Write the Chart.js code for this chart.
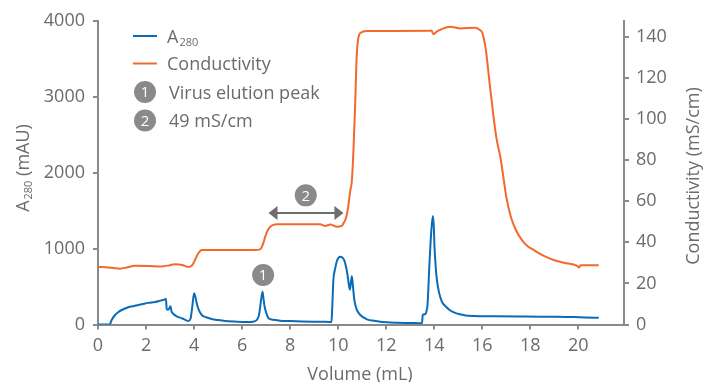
<!DOCTYPE html>
<html><head><meta charset="utf-8">
<script src="https://cdn.jsdelivr.net/npm/chart.js@4"></script>
<style>html,body{margin:0;padding:0;background:#fff}canvas{display:block}</style>
</head><body>
<canvas id="c" width="709" height="382"></canvas>
<script>
// ---- data ----
const a280Volume = [0,0.45,0.5,0.57,0.71,0.85,0.99,1.26,1.5,1.82,2.1,2.38,2.6,2.79,2.83,2.86,2.92,2.98,3.02,3.06,3.14,3.3,3.49,3.65,3.76,3.85,3.92,4.0,4.05,4.11,4.2,4.32,4.5,4.73,5.0,5.29,5.7,6.2,6.5,6.61,6.7,6.76,6.81,6.85,6.89,6.94,7.02,7.1,7.3,7.58,8.0,8.5,9.0,9.5,9.72,9.75,9.8,9.87,9.94,10.02,10.1,10.18,10.25,10.32,10.38,10.44,10.49,10.53,10.57,10.61,10.67,10.72,10.78,10.92,11.2,11.5,11.75,12.45,13.0,13.49,13.52,13.63,13.68,13.72,13.8,13.87,13.94,13.98,14.01,14.06,14.11,14.2,14.32,14.5,14.67,14.9,15.08,15.3,15.64,16.5,17.5,18.4,19.1,19.8,20.3,20.85];
const a280Values = [0,0,8,59,125,165,191,227,245,266,285,297,315,332,340,200,195,220,240,175,139,105,82,58,46,75,220,412,370,280,190,125,95,73,58,46,38,32,40,59,120,250,370,433,340,230,140,82,62,50,45,40,37,35,33,200,587,730,830,880,892,880,850,770,670,530,460,560,635,520,330,250,191,125,68,48,37,24,20,16,125,135,180,260,800,1200,1431,1300,1026,760,587,420,300,230,185,150,135,120,112,108,105,103,103,98,92,88];
const condVolume = [0,0.43,0.7,0.92,1.2,1.54,2.1,2.65,3.0,3.2,3.5,3.76,3.9,3.97,4.08,4.18,4.32,5.3,6.5,6.75,6.88,6.96,7.05,7.17,7.44,9.25,9.46,9.67,9.95,10.15,10.22,10.3,10.4,10.5,10.57,10.64,10.71,10.76,10.82,10.92,11.2,13.8,13.88,13.97,14.1,14.3,14.67,15.08,15.7,15.9,16.0,16.15,16.3,16.47,16.6,16.75,16.9,17.0,17.2,17.4,17.65,17.9,18.14,18.5,18.7,19.0,19.4,19.95,20.02,20.1,20.85];
const condValues = [28.0,27.8,27.4,27.2,27.8,28.6,28.5,28.3,28.9,29.3,29.0,28.0,28.6,29.8,32.5,34.7,36.3,36.3,36.3,36.6,39.5,42.7,45.5,47.6,48.8,48.8,48.0,48.7,47.6,48.0,49.3,51,56,65,70,86,108,128,138,142,142.9,143,143.2,141.4,142.6,143.8,145,144.2,144.5,143.4,142,133.6,118,101,90,81.7,70,62,52,46,41.1,38,36.3,33.8,32.7,31.3,30.1,28.5,27.8,28.8,28.8];
const xTickValues = [0,2,4,6,8,10,12,14,16,18,20];
const a280TickValues = [0,1000,2000,3000,4000];
const condTickValues = [0,20,40,60,80,100,120,140];
const seriesNames = ['A', 'Conductivity'];
const seriesSubs = ['280', ''];
const markerTexts = ['Virus elution peak', '49 mS/cm'];
const markerNumbers = ['1', '2'];
const axisTitles = {x: 'Volume (mL)', yMain: 'A', ySub: '280', yRest: ' (mAU)', y2: 'Conductivity (mS/cm)'};

// ---- styles / placement (not data) ----
const BLUE = '#0a6bb8', ORANGE = '#f26a2b', GREY = '#8a8a8a', TXT = '#6b6b6b';
const FONT = '"Open Sans", "DejaVu Sans", sans-serif';
const ann = {c1: {x: 6.875, y: 653}, c2: {x: 8.65, y: 1702}, arrow: {x1: 7.10, x2: 10.22, y: 1471}};

function toXY(xs, ys){ return xs.map((x,i)=>({x:x, y:ys[i]})); }

function drawSubText(ctx, x, y, main, sub, rest, size, subSize){
  ctx.textAlign = 'left';
  ctx.textBaseline = 'alphabetic';
  ctx.font = size + 'px ' + FONT;
  ctx.fillText(main, x, y);
  let w = ctx.measureText(main).width;
  if (sub){
    ctx.font = subSize + 'px ' + FONT;
    ctx.fillText(sub, x + w + 1, y + 3.5);
    w += ctx.measureText(sub).width + 1;
  }
  if (rest){
    ctx.font = size + 'px ' + FONT;
    ctx.fillText(rest, x + w, y);
    w += ctx.measureText(rest).width;
  }
  return w;
}
function measureSub(ctx, main, sub, rest, size, subSize){
  ctx.font = size + 'px ' + FONT;
  let w = ctx.measureText(main).width + ctx.measureText(rest||'').width;
  if (sub){ ctx.font = subSize + 'px ' + FONT; w += ctx.measureText(sub).width + 1; }
  return w;
}
function numCircle(ctx, cx, cy, n){
  ctx.beginPath();
  ctx.arc(cx, cy, 11, 0, Math.PI*2);
  ctx.fillStyle = GREY;
  ctx.fill();
  ctx.fillStyle = '#fff';
  ctx.font = '15px ' + FONT;
  ctx.textAlign = 'center';
  ctx.textBaseline = 'middle';
  ctx.fillText(n, cx, cy + 1);
}

const overlay = {
  id: 'overlay',
  afterDraw(chart){
    const ctx = chart.ctx;
    const xs = chart.scales.x, ys = chart.scales.y;
    ctx.save();
    // legend
    ctx.lineWidth = 2;
    ctx.strokeStyle = BLUE;
    ctx.beginPath(); ctx.moveTo(133, 36); ctx.lineTo(157, 36); ctx.stroke();
    ctx.strokeStyle = ORANGE;
    ctx.beginPath(); ctx.moveTo(133, 63.5); ctx.lineTo(157, 63.5); ctx.stroke();
    ctx.fillStyle = TXT;
    drawSubText(ctx, 167, 42.5, seriesNames[0], seriesSubs[0], '', 18, 11);
    ctx.fillStyle = TXT;
    drawSubText(ctx, 167, 70, seriesNames[1], '', '', 18, 11);
    numCircle(ctx, 145, 92, markerNumbers[0]);
    ctx.fillStyle = TXT;
    drawSubText(ctx, 169, 98.5, markerTexts[0], '', '', 18, 11);
    numCircle(ctx, 145, 120.5, markerNumbers[1]);
    ctx.fillStyle = TXT;
    drawSubText(ctx, 169, 127, markerTexts[1], '', '', 18, 11);

    // axis titles
    ctx.fillStyle = TXT;
    ctx.font = '18px ' + FONT;
    ctx.textAlign = 'center';
    ctx.textBaseline = 'alphabetic';
    ctx.fillText(axisTitles.x, 360, 380);
    // left
    ctx.save();
    ctx.translate(22, 168);
    ctx.rotate(-Math.PI/2);
    const lw = measureSub(ctx, axisTitles.yMain, axisTitles.ySub, axisTitles.yRest, 18, 11);
    ctx.fillStyle = TXT;
    drawSubText(ctx, -lw/2, 6.5, axisTitles.yMain, axisTitles.ySub, axisTitles.yRest, 18, 11);
    ctx.restore();
    // right
    ctx.save();
    ctx.translate(692, 176);
    ctx.rotate(-Math.PI/2);
    ctx.fillStyle = TXT;
    ctx.font = '18px ' + FONT;
    ctx.textAlign = 'center';
    ctx.textBaseline = 'alphabetic';
    ctx.fillText(axisTitles.y2, 0, 6.5);
    ctx.restore();

    // annotations
    numCircle(ctx, xs.getPixelForValue(ann.c1.x), ys.getPixelForValue(ann.c1.y), markerNumbers[0]);
    numCircle(ctx, xs.getPixelForValue(ann.c2.x), ys.getPixelForValue(ann.c2.y), markerNumbers[1]);
    const ax1 = xs.getPixelForValue(ann.arrow.x1), ax2 = xs.getPixelForValue(ann.arrow.x2), ay = ys.getPixelForValue(ann.arrow.y);
    ctx.strokeStyle = '#6e6e6e';
    ctx.fillStyle = '#6e6e6e';
    ctx.lineWidth = 2;
    ctx.beginPath(); ctx.moveTo(ax1 + 6, ay); ctx.lineTo(ax2 - 6, ay); ctx.stroke();
    ctx.beginPath(); ctx.moveTo(ax1, ay); ctx.lineTo(ax1 + 9, ay - 7); ctx.lineTo(ax1 + 9, ay + 7); ctx.closePath(); ctx.fill();
    ctx.beginPath(); ctx.moveTo(ax2, ay); ctx.lineTo(ax2 - 9, ay - 7); ctx.lineTo(ax2 - 9, ay + 7); ctx.closePath(); ctx.fill();
    ctx.restore();
  }
};

const axisGrid = {display: true, drawOnChartArea: false, drawTicks: true, tickLength: 5, color: GREY, lineWidth: 2};
const axisBorder = {display: true, color: GREY, width: 2};
const tickFont = {family: FONT, size: 18};
const plain = v => String(v);

new Chart(document.getElementById('c'), {
  type: 'line',
  data: {
    datasets: [
      {label: 'Conductivity', data: toXY(condVolume, condValues), yAxisID: 'y2', borderColor: ORANGE, borderWidth: 2, pointRadius: 0, cubicInterpolationMode: 'monotone', fill: false},
      {label: 'A280', data: toXY(a280Volume, a280Values), yAxisID: 'y', borderColor: BLUE, borderWidth: 2, pointRadius: 0, cubicInterpolationMode: 'monotone', fill: false}
    ]
  },
  options: {
    responsive: false,
    animation: false,
    devicePixelRatio: 1,
    layout: {padding: {top: 21, left: 0, right: 0, bottom: 0}},
    plugins: {legend: {display: false}, tooltip: {enabled: false}},
    scales: {
      x: {
        type: 'linear', min: 0, max: 21.9,
        afterBuildTicks: s => { s.ticks = xTickValues.map(v => ({value: v})); },
        afterFit: s => { s.height = 57.5; },
        grid: axisGrid, border: axisBorder,
        ticks: {font: tickFont, color: TXT, padding: 6, maxRotation: 0, callback: plain}
      },
      y: {
        type: 'linear', position: 'left', min: 0, max: 4000,
        afterBuildTicks: s => { s.ticks = a280TickValues.map(v => ({value: v})); },
        afterFit: s => { s.width = 98; },
        grid: axisGrid, border: axisBorder,
        ticks: {font: tickFont, color: TXT, padding: 8, callback: plain}
      },
      y2: {
        type: 'linear', position: 'right', min: 0, max: 147.8,
        afterBuildTicks: s => { s.ticks = condTickValues.map(v => ({value: v})); },
        afterFit: s => { s.width = 85; },
        grid: axisGrid, border: axisBorder,
        ticks: {font: tickFont, color: TXT, padding: 7, callback: plain}
      }
    }
  },
  plugins: [overlay]
});
</script>
</body></html>
